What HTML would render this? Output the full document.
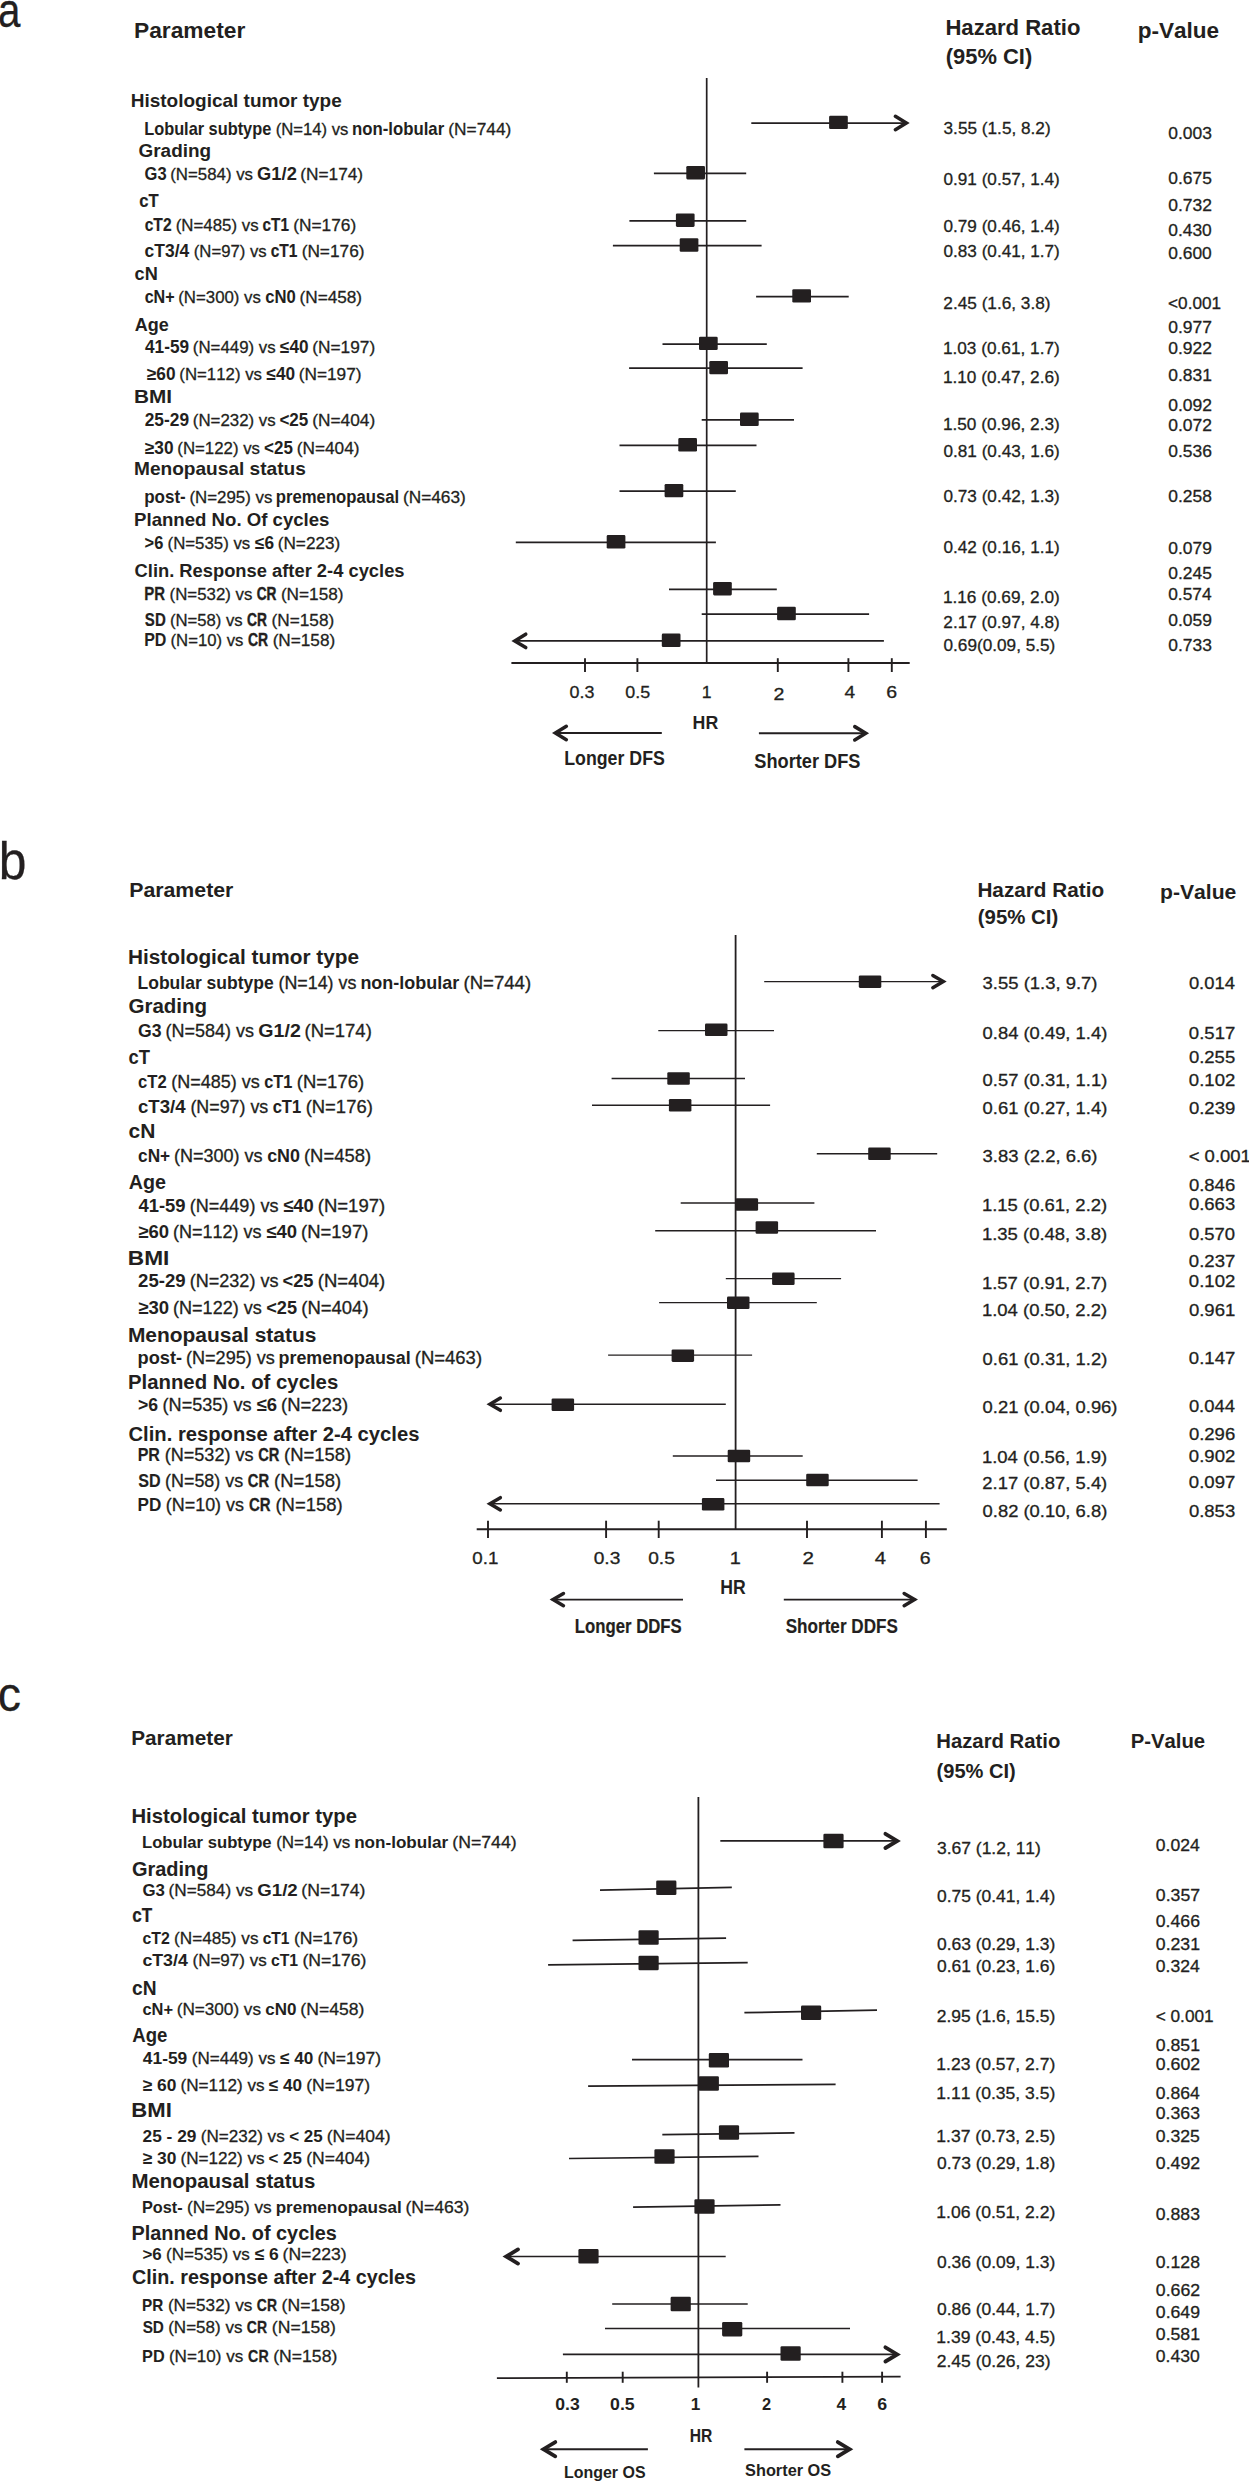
<!DOCTYPE html>
<html lang="en"><head><meta charset="utf-8"><title>Forest plots</title>
<style>
html,body{margin:0;padding:0;background:#fff}
svg{display:block}
text{font-family:"Liberation Sans",sans-serif;fill:#231f20;font-kerning:none;white-space:pre;stroke:#231f20;stroke-width:.3px}
.b{font-weight:bold;stroke:none}
path{stroke:#231f20;fill:none}
</style></head><body>
<svg width="1249" height="2482" viewBox="0 0 1249 2482">
<text transform="matrix(0.8238 0 0 1 -2.01 26.92)" font-size="48.92">a</text>
<text class="b" transform="matrix(1.0733 0 0 1 133.98 37.80)" font-size="21.21">Parameter</text>
<text class="b" transform="matrix(1.0416 0 0 1 945.42 35.00)" font-size="21.21">Hazard Ratio</text>
<text class="b" transform="matrix(1.0335 0 0 1 945.81 64.00)" font-size="21.21">(95% CI)</text>
<text class="b" transform="matrix(1.0633 0 0 1 1137.71 37.70)" font-size="21.21">p-Value</text>
<text class="b" transform="matrix(0.9887 0 0 1 130.73 107.30)" font-size="19.21">Histological tumor type</text>
<text class="b" transform="matrix(0.9862 0 0 1 138.52 156.60)" font-size="19.21">Grading</text>
<text class="b" style="stroke:#231f20;stroke-width:0.17px" transform="matrix(0.8665 0 0 1 139.35 207.20)" font-size="19.21">cT</text>
<text class="b" transform="matrix(0.9459 0 0 1 134.59 279.80)" font-size="19.21">cN</text>
<text class="b" transform="matrix(0.9384 0 0 1 134.85 330.50)" font-size="19.21">Age</text>
<text class="b" transform="matrix(1.0811 0 0 1 133.91 403.00)" font-size="19.21">BMI</text>
<text class="b" transform="matrix(0.9942 0 0 1 134.02 474.60)" font-size="19.21">Menopausal status</text>
<text class="b" transform="matrix(0.9687 0 0 1 134.05 525.90)" font-size="19.21">Planned No. Of cycles</text>
<text class="b" transform="matrix(0.9551 0 0 1 134.55 577.20)" font-size="19.21">Clin. Response after 2-4 cycles</text>
<g><text class="b" transform="matrix(0.9101 0 0 1 144.21 134.60)" font-size="17.96">Lobular subtype </text><text transform="matrix(0.9749 0 0 1 275.69 134.60)" font-size="17.10">(N=14) vs </text><text class="b" transform="matrix(0.9334 0 0 1 352.08 134.60)" font-size="17.96">non-lobular </text><text transform="matrix(1.0133 0 0 1 448.29 134.60)" font-size="17.10">(N=744)</text></g>
<g><text class="b" transform="matrix(0.9203 0 0 1 144.62 179.90)" font-size="17.96">G3 </text><text transform="matrix(0.9843 0 0 1 170.26 179.90)" font-size="17.10">(N=584) vs </text><text class="b" transform="matrix(1.0204 0 0 1 257.12 179.90)" font-size="17.96">G1/2 </text><text transform="matrix(1.0103 0 0 1 300.28 179.90)" font-size="17.10">(N=174)</text></g>
<g><text class="b" style="stroke:#231f20;stroke-width:0.16px" transform="matrix(0.8687 0 0 1 144.69 230.90)" font-size="17.96">cT2 </text><text transform="matrix(0.9851 0 0 1 175.73 230.90)" font-size="17.10">(N=485) vs </text><text class="b" style="stroke:#231f20;stroke-width:0.21px" transform="matrix(0.8492 0 0 1 262.62 230.90)" font-size="17.96">cT1 </text><text transform="matrix(1.0111 0 0 1 293.22 230.90)" font-size="17.10">(N=176)</text></g>
<g><text class="b" transform="matrix(0.9716 0 0 1 144.62 256.50)" font-size="17.96">cT3/4 </text><text transform="matrix(0.9779 0 0 1 193.75 256.50)" font-size="17.10">(N=97) vs </text><text class="b" style="stroke:#231f20;stroke-width:0.17px" transform="matrix(0.8648 0 0 1 270.74 256.50)" font-size="17.96">cT1 </text><text transform="matrix(1.0108 0 0 1 301.64 256.50)" font-size="17.10">(N=176)</text></g>
<g><text class="b" style="stroke:#231f20;stroke-width:0.09px" transform="matrix(0.8973 0 0 1 144.67 302.50)" font-size="17.96">cN+ </text><text transform="matrix(0.9841 0 0 1 178.22 302.50)" font-size="17.10">(N=300) vs </text><text class="b" transform="matrix(0.9303 0 0 1 265.16 302.50)" font-size="17.96">cN0 </text><text transform="matrix(1.0069 0 0 1 299.48 302.50)" font-size="17.10">(N=458)</text></g>
<g><text class="b" transform="matrix(0.9585 0 0 1 145.04 353.40)" font-size="17.96">41-59 </text><text transform="matrix(0.9850 0 0 1 192.81 353.40)" font-size="17.10">(N=449) vs </text><text class="b" transform="matrix(0.9556 0 0 1 280.07 353.40)" font-size="17.96">≤40 </text><text transform="matrix(1.0110 0 0 1 312.23 353.40)" font-size="17.10">(N=197)</text></g>
<g><text class="b" transform="matrix(0.9629 0 0 1 146.89 379.50)" font-size="17.96">≥60 </text><text transform="matrix(0.9832 0 0 1 179.30 379.50)" font-size="17.10">(N=112) vs </text><text class="b" transform="matrix(0.9629 0 0 1 266.41 379.50)" font-size="17.96">≤40 </text><text transform="matrix(1.0084 0 0 1 298.79 379.50)" font-size="17.10">(N=197)</text></g>
<g><text class="b" transform="matrix(0.9661 0 0 1 144.70 425.60)" font-size="17.96">25-29 </text><text transform="matrix(0.9850 0 0 1 192.81 425.60)" font-size="17.10">(N=232) vs </text><text class="b" transform="matrix(0.9511 0 0 1 279.38 425.60)" font-size="17.96">&lt;25 </text><text transform="matrix(1.0110 0 0 1 312.23 425.60)" font-size="17.10">(N=404)</text></g>
<g><text class="b" transform="matrix(0.9629 0 0 1 144.89 453.90)" font-size="17.96">≥30 </text><text transform="matrix(0.9832 0 0 1 177.30 453.90)" font-size="17.10">(N=122) vs </text><text class="b" transform="matrix(0.9450 0 0 1 264.11 453.90)" font-size="17.96">&lt;25 </text><text transform="matrix(1.0084 0 0 1 296.79 453.90)" font-size="17.10">(N=404)</text></g>
<g><text class="b" transform="matrix(0.9476 0 0 1 144.18 502.60)" font-size="17.96">post- </text><text transform="matrix(0.9869 0 0 1 189.41 502.60)" font-size="17.10">(N=295) vs </text><text class="b" transform="matrix(0.9299 0 0 1 275.79 502.60)" font-size="17.96">premenopausal </text><text transform="matrix(1.0096 0 0 1 402.92 502.60)" font-size="17.10">(N=463)</text></g>
<g><text class="b" transform="matrix(0.9161 0 0 1 144.61 548.50)" font-size="17.96">&gt;6 </text><text transform="matrix(0.9843 0 0 1 167.55 548.50)" font-size="17.10">(N=535) vs </text><text class="b" transform="matrix(0.9621 0 0 1 254.94 548.50)" font-size="17.96">≤6 </text><text transform="matrix(1.0038 0 0 1 277.77 548.50)" font-size="17.10">(N=223)</text></g>
<g><text class="b" style="stroke:#231f20;stroke-width:0.25px" transform="matrix(0.8329 0 0 1 144.30 599.80)" font-size="17.96">PR </text><text transform="matrix(0.9848 0 0 1 169.56 599.80)" font-size="17.10">(N=532) vs </text><text class="b" style="stroke:#231f20;stroke-width:0.44px" transform="matrix(0.7605 0 0 1 256.67 599.80)" font-size="17.96">CR </text><text transform="matrix(1.0068 0 0 1 280.89 599.80)" font-size="17.10">(N=158)</text></g>
<g><text class="b" style="stroke:#231f20;stroke-width:0.24px" transform="matrix(0.8364 0 0 1 144.87 625.80)" font-size="17.96">SD </text><text transform="matrix(0.9770 0 0 1 169.89 625.80)" font-size="17.10">(N=58) vs </text><text class="b" style="stroke:#231f20;stroke-width:0.43px" transform="matrix(0.7662 0 0 1 247.03 625.80)" font-size="17.96">CR </text><text transform="matrix(1.0071 0 0 1 271.57 625.80)" font-size="17.10">(N=158)</text></g>
<g><text class="b" style="stroke:#231f20;stroke-width:0.11px" transform="matrix(0.8886 0 0 1 144.23 646.40)" font-size="17.96">PD </text><text transform="matrix(0.9765 0 0 1 170.53 646.40)" font-size="17.10">(N=10) vs </text><text class="b" style="stroke:#231f20;stroke-width:0.40px" transform="matrix(0.7757 0 0 1 248.03 646.40)" font-size="17.96">CR </text><text transform="matrix(1.0061 0 0 1 272.63 646.40)" font-size="17.10">(N=158)</text></g>
<text transform="matrix(0.9945 0 0 1 943.54 133.80)" font-size="17.30">3.55 (1.5, 8.2)</text>
<text transform="matrix(0.9915 0 0 1 943.53 185.20)" font-size="17.30">0.91 (0.57, 1.4)</text>
<text transform="matrix(0.9915 0 0 1 943.53 231.50)" font-size="17.30">0.79 (0.46, 1.4)</text>
<text transform="matrix(0.9915 0 0 1 943.53 256.90)" font-size="17.30">0.83 (0.41, 1.7)</text>
<text transform="matrix(0.9965 0 0 1 943.33 308.50)" font-size="17.30">2.45 (1.6, 3.8)</text>
<text transform="matrix(0.9970 0 0 1 942.89 353.80)" font-size="17.30">1.03 (0.61, 1.7)</text>
<text transform="matrix(0.9970 0 0 1 942.89 382.80)" font-size="17.30">1.10 (0.47, 2.6)</text>
<text transform="matrix(0.9970 0 0 1 942.89 429.70)" font-size="17.30">1.50 (0.96, 2.3)</text>
<text transform="matrix(0.9915 0 0 1 943.53 456.50)" font-size="17.30">0.81 (0.43, 1.6)</text>
<text transform="matrix(0.9915 0 0 1 943.53 502.40)" font-size="17.30">0.73 (0.42, 1.3)</text>
<text transform="matrix(0.9915 0 0 1 943.53 553.00)" font-size="17.30">0.42 (0.16, 1.1)</text>
<text transform="matrix(0.9970 0 0 1 942.89 602.50)" font-size="17.30">1.16 (0.69, 2.0)</text>
<text transform="matrix(0.9932 0 0 1 943.34 628.10)" font-size="17.30">2.17 (0.97, 4.8)</text>
<text transform="matrix(0.9939 0 0 1 943.53 651.00)" font-size="17.30">0.69(0.09, 5.5)</text>
<text transform="matrix(1.0082 0 0 1 1168.22 138.80)" font-size="17.30">0.003</text>
<text transform="matrix(1.0074 0 0 1 1168.22 183.60)" font-size="17.30">0.675</text>
<text transform="matrix(1.0109 0 0 1 1168.22 210.70)" font-size="17.30">0.732</text>
<text transform="matrix(1.0062 0 0 1 1168.22 236.30)" font-size="17.30">0.430</text>
<text transform="matrix(1.0062 0 0 1 1168.22 259.00)" font-size="17.30">0.600</text>
<text transform="matrix(1.0109 0 0 1 1168.22 333.30)" font-size="17.30">0.977</text>
<text transform="matrix(1.0109 0 0 1 1168.22 353.80)" font-size="17.30">0.922</text>
<text transform="matrix(1.0103 0 0 1 1168.22 381.20)" font-size="17.30">0.831</text>
<text transform="matrix(1.0109 0 0 1 1168.22 410.70)" font-size="17.30">0.092</text>
<text transform="matrix(1.0109 0 0 1 1168.22 431.20)" font-size="17.30">0.072</text>
<text transform="matrix(1.0082 0 0 1 1168.22 456.50)" font-size="17.30">0.536</text>
<text transform="matrix(1.0080 0 0 1 1168.22 502.40)" font-size="17.30">0.258</text>
<text transform="matrix(1.0096 0 0 1 1168.22 554.00)" font-size="17.30">0.079</text>
<text transform="matrix(1.0074 0 0 1 1168.22 579.30)" font-size="17.30">0.245</text>
<text transform="matrix(1.0021 0 0 1 1168.22 599.90)" font-size="17.30">0.574</text>
<text transform="matrix(1.0096 0 0 1 1168.22 625.70)" font-size="17.30">0.059</text>
<text transform="matrix(1.0082 0 0 1 1168.22 651.00)" font-size="17.30">0.733</text>
<text transform="matrix(0.9942 0 0 1 1168.05 308.50)" font-size="17.30">&lt;0.001</text>
<text transform="matrix(1.0408 0 0 1 569.50 698.20)" font-size="17.20">0.3</text>
<text transform="matrix(1.0393 0 0 1 625.30 698.20)" font-size="17.20">0.5</text>
<text transform="matrix(1.0248 0 0 1 701.76 698.20)" font-size="17.20">1</text>
<text transform="matrix(1.1358 0 0 1 773.42 699.90)" font-size="17.20">2</text>
<text transform="matrix(1.1076 0 0 1 844.56 698.20)" font-size="17.20">4</text>
<text transform="matrix(1.1340 0 0 1 886.31 698.20)" font-size="17.20">6</text>
<text class="b" transform="matrix(0.9294 0 0 1 692.61 729.10)" font-size="19.11">HR</text>
<text class="b" transform="matrix(0.9197 0 0 1 564.21 765.00)" font-size="19.32">Longer DFS</text>
<text class="b" transform="matrix(0.9425 0 0 1 754.28 767.70)" font-size="19.32">Shorter DFS</text>
<path d="M706.7 77.9L706.7 663.0" stroke-width="1.70"/>
<path d="M511.4 663.0L909.7 663.0" stroke-width="1.90"/>
<path d="M585.0 658.2L585.0 672.0" stroke-width="1.90"/>
<path d="M637.4 658.2L637.4 672.0" stroke-width="1.90"/>
<path d="M777.8 658.2L777.8 672.0" stroke-width="1.90"/>
<path d="M848.4 658.2L848.4 672.0" stroke-width="1.90"/>
<path d="M891.8 658.2L891.8 672.0" stroke-width="1.90"/>
<path d="M751.3 123.0L905.7 123.0" stroke-width="1.75"/>
<rect x="829.1" y="115.7" width="18.7" height="13.4" rx="1.3" fill="#231f20" stroke="none"/>
<path d="M895.38 116.33L906.30 123.00L895.38 129.68" stroke-width="3.55" stroke-linecap="round" stroke-linejoin="miter" stroke-miterlimit="10"/>
<path d="M653.9 173.3L746.2 173.3" stroke-width="1.75"/>
<rect x="686.3" y="166.0" width="18.7" height="13.4" rx="1.3" fill="#231f20" stroke="none"/>
<path d="M629.4 220.8L746.2 220.8" stroke-width="1.75"/>
<rect x="675.9" y="213.5" width="18.7" height="13.4" rx="1.3" fill="#231f20" stroke="none"/>
<path d="M612.9 245.6L761.6 245.6" stroke-width="1.75"/>
<rect x="679.7" y="238.3" width="18.7" height="13.4" rx="1.3" fill="#231f20" stroke="none"/>
<path d="M756.1 296.5L848.7 296.5" stroke-width="1.75"/>
<rect x="792.3" y="289.2" width="18.7" height="13.4" rx="1.3" fill="#231f20" stroke="none"/>
<path d="M662.5 344.0L766.8 344.0" stroke-width="1.75"/>
<rect x="699.0" y="336.7" width="18.7" height="13.4" rx="1.3" fill="#231f20" stroke="none"/>
<path d="M629.1 368.2L802.6 368.2" stroke-width="1.75"/>
<rect x="709.3" y="360.9" width="18.7" height="13.4" rx="1.3" fill="#231f20" stroke="none"/>
<path d="M701.7 419.9L794.0 419.9" stroke-width="1.75"/>
<rect x="740.0" y="412.6" width="18.7" height="13.4" rx="1.3" fill="#231f20" stroke="none"/>
<path d="M619.5 445.4L756.5 445.4" stroke-width="1.75"/>
<rect x="678.3" y="438.1" width="18.7" height="13.4" rx="1.3" fill="#231f20" stroke="none"/>
<path d="M619.5 491.2L735.8 491.2" stroke-width="1.75"/>
<rect x="664.6" y="483.9" width="18.7" height="13.4" rx="1.3" fill="#231f20" stroke="none"/>
<path d="M515.8 542.4L715.9 542.4" stroke-width="1.75"/>
<rect x="606.7" y="535.1" width="18.7" height="13.4" rx="1.3" fill="#231f20" stroke="none"/>
<path d="M669.0 589.3L776.8 589.3" stroke-width="1.75"/>
<rect x="713.1" y="582.0" width="18.7" height="13.4" rx="1.3" fill="#231f20" stroke="none"/>
<path d="M701.7 614.1L869.1 614.1" stroke-width="1.75"/>
<rect x="777.1" y="606.8" width="18.7" height="13.4" rx="1.3" fill="#231f20" stroke="none"/>
<path d="M515.4 640.9L883.9 640.9" stroke-width="1.75"/>
<rect x="661.8" y="633.6" width="18.7" height="13.4" rx="1.3" fill="#231f20" stroke="none"/>
<path d="M525.73 634.23L514.80 640.90L525.73 647.57" stroke-width="3.55" stroke-linecap="round" stroke-linejoin="miter" stroke-miterlimit="10"/>
<path d="M556.0 733.0L661.8 733.0" stroke-width="2.00"/>
<path d="M566.33 726.33L555.40 733.00L566.33 739.67" stroke-width="3.55" stroke-linecap="round" stroke-linejoin="miter" stroke-miterlimit="10"/>
<path d="M758.9 733.3L865.0 733.3" stroke-width="2.00"/>
<path d="M854.77 726.62L865.70 733.30L854.77 739.97" stroke-width="3.55" stroke-linecap="round" stroke-linejoin="miter" stroke-miterlimit="10"/>
<text transform="matrix(0.9626 0 0 1 -1.31 879.19)" font-size="51.74">b</text>
<text class="b" transform="matrix(1.0570 0 0 1 129.17 897.30)" font-size="20.16">Parameter</text>
<text class="b" transform="matrix(1.0282 0 0 1 977.41 897.10)" font-size="20.16">Hazard Ratio</text>
<text class="b" transform="matrix(1.0125 0 0 1 977.78 923.60)" font-size="20.16">(95% CI)</text>
<text class="b" transform="matrix(1.0481 0 0 1 1160.01 898.60)" font-size="20.16">p-Value</text>
<text class="b" transform="matrix(1.0429 0 0 1 127.91 964.20)" font-size="19.95">Histological tumor type</text>
<text class="b" transform="matrix(1.0293 0 0 1 128.46 1013.20)" font-size="19.95">Grading</text>
<text class="b" transform="matrix(0.9243 0 0 1 128.58 1063.80)" font-size="19.95">cT</text>
<text class="b" transform="matrix(1.0522 0 0 1 128.48 1138.10)" font-size="19.95">cN</text>
<text class="b" transform="matrix(0.9888 0 0 1 128.81 1188.60)" font-size="19.95">Age</text>
<text class="b" transform="matrix(1.1387 0 0 1 127.78 1264.90)" font-size="19.95">BMI</text>
<text class="b" transform="matrix(1.0500 0 0 1 127.90 1341.70)" font-size="19.95">Menopausal status</text>
<text class="b" transform="matrix(1.0208 0 0 1 127.94 1389.20)" font-size="19.95">Planned No. of cycles</text>
<text class="b" transform="matrix(1.0135 0 0 1 128.47 1440.80)" font-size="19.95">Clin. response after 2-4 cycles</text>
<g><text class="b" transform="matrix(0.9479 0 0 1 137.53 988.60)" font-size="18.48">Lobular subtype </text><text transform="matrix(1.0155 0 0 1 278.49 988.60)" font-size="17.60">(N=14) vs </text><text class="b" transform="matrix(0.9722 0 0 1 360.38 988.60)" font-size="18.48">non-lobular </text><text transform="matrix(1.0554 0 0 1 463.52 988.60)" font-size="17.60">(N=744)</text></g>
<g><text class="b" transform="matrix(0.9568 0 0 1 137.97 1036.50)" font-size="18.48">G3 </text><text transform="matrix(1.0233 0 0 1 165.41 1036.50)" font-size="17.60">(N=584) vs </text><text class="b" transform="matrix(1.0609 0 0 1 258.36 1036.50)" font-size="18.48">G1/2 </text><text transform="matrix(1.0504 0 0 1 304.54 1036.50)" font-size="17.60">(N=174)</text></g>
<g><text class="b" transform="matrix(0.9023 0 0 1 138.05 1087.50)" font-size="18.48">cT2 </text><text transform="matrix(1.0233 0 0 1 171.23 1087.50)" font-size="17.60">(N=485) vs </text><text class="b" style="stroke:#231f20;stroke-width:0.12px" transform="matrix(0.8821 0 0 1 264.13 1087.50)" font-size="18.48">cT1 </text><text transform="matrix(1.0503 0 0 1 296.85 1087.50)" font-size="17.60">(N=176)</text></g>
<g><text class="b" transform="matrix(1.0080 0 0 1 137.97 1113.10)" font-size="18.48">cT3/4 </text><text transform="matrix(1.0145 0 0 1 190.43 1113.10)" font-size="17.60">(N=97) vs </text><text class="b" style="stroke:#231f20;stroke-width:0.09px" transform="matrix(0.8972 0 0 1 272.65 1113.10)" font-size="18.48">cT1 </text><text transform="matrix(1.0487 0 0 1 305.65 1113.10)" font-size="17.60">(N=176)</text></g>
<g><text class="b" transform="matrix(0.9344 0 0 1 138.03 1162.30)" font-size="18.48">cN+ </text><text transform="matrix(1.0248 0 0 1 173.98 1162.30)" font-size="17.60">(N=300) vs </text><text class="b" transform="matrix(0.9688 0 0 1 267.17 1162.30)" font-size="18.48">cN0 </text><text transform="matrix(1.0486 0 0 1 303.96 1162.30)" font-size="17.60">(N=458)</text></g>
<g><text class="b" transform="matrix(0.9989 0 0 1 138.42 1212.00)" font-size="18.48">41-59 </text><text transform="matrix(1.0264 0 0 1 189.66 1212.00)" font-size="17.60">(N=449) vs </text><text class="b" transform="matrix(0.9958 0 0 1 283.25 1212.00)" font-size="18.48">≤40 </text><text transform="matrix(1.0535 0 0 1 317.75 1212.00)" font-size="17.60">(N=197)</text></g>
<g><text class="b" transform="matrix(1.0027 0 0 1 138.26 1237.80)" font-size="18.48">≥60 </text><text transform="matrix(1.0238 0 0 1 172.99 1237.80)" font-size="17.60">(N=112) vs </text><text class="b" transform="matrix(1.0027 0 0 1 266.36 1237.80)" font-size="18.48">≤40 </text><text transform="matrix(1.0500 0 0 1 301.07 1237.80)" font-size="17.60">(N=197)</text></g>
<g><text class="b" transform="matrix(1.0067 0 0 1 138.06 1286.90)" font-size="18.48">25-29 </text><text transform="matrix(1.0264 0 0 1 189.66 1286.90)" font-size="17.60">(N=232) vs </text><text class="b" transform="matrix(0.9911 0 0 1 282.50 1286.90)" font-size="18.48">&lt;25 </text><text transform="matrix(1.0535 0 0 1 317.75 1286.90)" font-size="17.60">(N=404)</text></g>
<g><text class="b" transform="matrix(1.0040 0 0 1 138.26 1314.30)" font-size="18.48">≥30 </text><text transform="matrix(1.0252 0 0 1 173.04 1314.30)" font-size="17.60">(N=122) vs </text><text class="b" transform="matrix(0.9854 0 0 1 266.21 1314.30)" font-size="18.48">&lt;25 </text><text transform="matrix(1.0514 0 0 1 301.28 1314.30)" font-size="17.60">(N=404)</text></g>
<g><text class="b" transform="matrix(0.9866 0 0 1 137.50 1364.00)" font-size="18.48">post- </text><text transform="matrix(1.0276 0 0 1 185.97 1364.00)" font-size="17.60">(N=295) vs </text><text class="b" transform="matrix(0.9683 0 0 1 278.54 1364.00)" font-size="18.48">premenopausal </text><text transform="matrix(1.0512 0 0 1 414.79 1364.00)" font-size="17.60">(N=463)</text></g>
<g><text class="b" transform="matrix(0.9562 0 0 1 137.96 1411.20)" font-size="18.48">&gt;6 </text><text transform="matrix(1.0273 0 0 1 162.60 1411.20)" font-size="17.60">(N=535) vs </text><text class="b" transform="matrix(1.0042 0 0 1 256.48 1411.20)" font-size="18.48">≤6 </text><text transform="matrix(1.0477 0 0 1 281.01 1411.20)" font-size="17.60">(N=223)</text></g>
<g><text class="b" style="stroke:#231f20;stroke-width:0.16px" transform="matrix(0.8679 0 0 1 137.63 1460.60)" font-size="18.48">PR </text><text transform="matrix(1.0262 0 0 1 164.72 1460.60)" font-size="17.60">(N=532) vs </text><text class="b" style="stroke:#231f20;stroke-width:0.36px" transform="matrix(0.7925 0 0 1 258.15 1460.60)" font-size="18.48">CR </text><text transform="matrix(1.0491 0 0 1 284.12 1460.60)" font-size="17.60">(N=158)</text></g>
<g><text class="b" style="stroke:#231f20;stroke-width:0.15px" transform="matrix(0.8711 0 0 1 138.24 1487.20)" font-size="18.48">SD </text><text transform="matrix(1.0174 0 0 1 165.05 1487.20)" font-size="17.60">(N=58) vs </text><text class="b" style="stroke:#231f20;stroke-width:0.34px" transform="matrix(0.7979 0 0 1 247.74 1487.20)" font-size="18.48">CR </text><text transform="matrix(1.0488 0 0 1 274.04 1487.20)" font-size="17.60">(N=158)</text></g>
<g><text class="b" transform="matrix(0.9274 0 0 1 137.55 1511.00)" font-size="18.48">PD </text><text transform="matrix(1.0191 0 0 1 165.80 1511.00)" font-size="17.60">(N=10) vs </text><text class="b" style="stroke:#231f20;stroke-width:0.31px" transform="matrix(0.8095 0 0 1 249.04 1511.00)" font-size="18.48">CR </text><text transform="matrix(1.0500 0 0 1 275.47 1511.00)" font-size="17.60">(N=158)</text></g>
<text transform="matrix(1.0672 0 0 1 982.60 988.60)" font-size="17.30">3.55 (1.3, 9.7)</text>
<text transform="matrix(1.0633 0 0 1 982.58 1038.90)" font-size="17.30">0.84 (0.49, 1.4)</text>
<text transform="matrix(1.0633 0 0 1 982.58 1085.60)" font-size="17.30">0.57 (0.31, 1.1)</text>
<text transform="matrix(1.0633 0 0 1 982.58 1114.20)" font-size="17.30">0.61 (0.27, 1.4)</text>
<text transform="matrix(1.0672 0 0 1 982.60 1162.20)" font-size="17.30">3.83 (2.2, 6.6)</text>
<text transform="matrix(1.0692 0 0 1 981.89 1210.70)" font-size="17.30">1.15 (0.61, 2.2)</text>
<text transform="matrix(1.0692 0 0 1 981.89 1240.20)" font-size="17.30">1.35 (0.48, 3.8)</text>
<text transform="matrix(1.0692 0 0 1 981.89 1288.70)" font-size="17.30">1.57 (0.91, 2.7)</text>
<text transform="matrix(1.0692 0 0 1 981.89 1315.60)" font-size="17.30">1.04 (0.50, 2.2)</text>
<text transform="matrix(1.0633 0 0 1 982.58 1365.00)" font-size="17.30">0.61 (0.31, 1.2)</text>
<text transform="matrix(1.0631 0 0 1 982.58 1413.30)" font-size="17.30">0.21 (0.04, 0.96)</text>
<text transform="matrix(1.0692 0 0 1 981.89 1462.70)" font-size="17.30">1.04 (0.56, 1.9)</text>
<text transform="matrix(1.0651 0 0 1 982.37 1489.20)" font-size="17.30">2.17 (0.87, 5.4)</text>
<text transform="matrix(1.0633 0 0 1 982.58 1516.70)" font-size="17.30">0.82 (0.10, 6.8)</text>
<text transform="matrix(1.0639 0 0 1 1188.88 988.60)" font-size="17.30">0.014</text>
<text transform="matrix(1.0731 0 0 1 1188.87 1038.90)" font-size="17.30">0.517</text>
<text transform="matrix(1.0695 0 0 1 1188.88 1062.90)" font-size="17.30">0.255</text>
<text transform="matrix(1.0731 0 0 1 1188.87 1085.60)" font-size="17.30">0.102</text>
<text transform="matrix(1.0718 0 0 1 1188.88 1114.20)" font-size="17.30">0.239</text>
<text transform="matrix(1.0703 0 0 1 1188.88 1190.70)" font-size="17.30">0.846</text>
<text transform="matrix(1.0703 0 0 1 1188.88 1209.70)" font-size="17.30">0.663</text>
<text transform="matrix(1.0682 0 0 1 1188.88 1240.20)" font-size="17.30">0.570</text>
<text transform="matrix(1.0731 0 0 1 1188.87 1267.40)" font-size="17.30">0.237</text>
<text transform="matrix(1.0731 0 0 1 1188.87 1286.70)" font-size="17.30">0.102</text>
<text transform="matrix(1.0725 0 0 1 1188.88 1315.60)" font-size="17.30">0.961</text>
<text transform="matrix(1.0731 0 0 1 1188.87 1363.50)" font-size="17.30">0.147</text>
<text transform="matrix(1.0639 0 0 1 1188.88 1411.80)" font-size="17.30">0.044</text>
<text transform="matrix(1.0703 0 0 1 1188.88 1440.00)" font-size="17.30">0.296</text>
<text transform="matrix(1.0731 0 0 1 1188.87 1462.30)" font-size="17.30">0.902</text>
<text transform="matrix(1.0731 0 0 1 1188.87 1488.20)" font-size="17.30">0.097</text>
<text transform="matrix(1.0703 0 0 1 1188.88 1516.70)" font-size="17.30">0.853</text>
<text transform="matrix(1.0690 0 0 1 1188.69 1162.20)" font-size="17.30">&lt; 0.001</text>
<text transform="matrix(1.1087 0 0 1 472.37 1564.00)" font-size="16.90">0.1</text>
<text transform="matrix(1.1362 0 0 1 593.65 1564.00)" font-size="16.90">0.3</text>
<text transform="matrix(1.1345 0 0 1 648.15 1564.00)" font-size="16.90">0.5</text>
<text transform="matrix(1.1803 0 0 1 729.78 1564.00)" font-size="16.90">1</text>
<text transform="matrix(1.2209 0 0 1 802.46 1564.00)" font-size="16.90">2</text>
<text transform="matrix(1.1977 0 0 1 874.84 1564.00)" font-size="16.90">4</text>
<text transform="matrix(1.1541 0 0 1 919.81 1564.00)" font-size="16.90">6</text>
<text class="b" transform="matrix(0.9067 0 0 1 720.32 1594.20)" font-size="19.43">HR</text>
<text class="b" style="stroke:#231f20;stroke-width:0.21px" transform="matrix(0.8482 0 0 1 574.78 1633.00)" font-size="19.74">Longer DDFS</text>
<text class="b" style="stroke:#231f20;stroke-width:0.16px" transform="matrix(0.8667 0 0 1 785.71 1633.00)" font-size="19.74">Shorter DDFS</text>
<path d="M735.6 934.9L735.6 1529.3" stroke-width="1.80"/>
<path d="M476.7 1529.2L946.8 1529.2" stroke-width="1.90"/>
<path d="M488.0 1520.7L488.0 1538.0" stroke-width="1.90"/>
<path d="M606.1 1520.7L606.1 1538.0" stroke-width="1.90"/>
<path d="M658.7 1520.7L658.7 1538.0" stroke-width="1.90"/>
<path d="M807.0 1520.7L807.0 1538.0" stroke-width="1.90"/>
<path d="M881.9 1520.7L881.9 1538.0" stroke-width="1.90"/>
<path d="M925.9 1520.7L925.9 1538.0" stroke-width="1.90"/>
<path d="M764.2 981.6L942.7 981.6" stroke-width="1.45"/>
<rect x="858.8" y="975.4" width="22.5" height="12.5" rx="1.3" fill="#231f20" stroke="none"/>
<path d="M932.85 975.50L943.24 981.60L932.85 987.70" stroke-width="3.50" stroke-linecap="round" stroke-linejoin="miter" stroke-miterlimit="10"/>
<path d="M658.3 1030.6L774.0 1030.6" stroke-width="1.45"/>
<rect x="705.0" y="1023.6" width="22.5" height="12.5" rx="1.3" fill="#231f20" stroke="none"/>
<path d="M611.6 1078.5L745.0 1078.5" stroke-width="1.45"/>
<rect x="667.3" y="1072.2" width="22.5" height="12.5" rx="1.3" fill="#231f20" stroke="none"/>
<path d="M592.0 1105.2L770.1 1105.2" stroke-width="1.45"/>
<rect x="668.9" y="1099.0" width="22.5" height="12.5" rx="1.3" fill="#231f20" stroke="none"/>
<path d="M816.8 1153.8L937.2 1153.8" stroke-width="1.45"/>
<rect x="868.2" y="1147.5" width="22.5" height="12.5" rx="1.3" fill="#231f20" stroke="none"/>
<path d="M680.7 1202.9L814.4 1202.9" stroke-width="1.45"/>
<rect x="735.6" y="1198.2" width="22.5" height="12.5" rx="1.3" fill="#231f20" stroke="none"/>
<path d="M655.2 1230.7L876.0 1230.7" stroke-width="1.45"/>
<rect x="755.6" y="1221.2" width="22.5" height="12.5" rx="1.3" fill="#231f20" stroke="none"/>
<path d="M725.8 1278.6L841.1 1278.6" stroke-width="1.45"/>
<rect x="772.1" y="1272.6" width="22.5" height="12.5" rx="1.3" fill="#231f20" stroke="none"/>
<path d="M659.1 1302.6L816.8 1302.6" stroke-width="1.45"/>
<rect x="727.0" y="1296.5" width="22.5" height="12.5" rx="1.3" fill="#231f20" stroke="none"/>
<path d="M608.1 1355.1L752.1 1355.1" stroke-width="1.45"/>
<rect x="671.6" y="1349.4" width="22.5" height="12.5" rx="1.3" fill="#231f20" stroke="none"/>
<path d="M490.5 1404.2L725.8 1404.2" stroke-width="1.45"/>
<rect x="551.6" y="1398.5" width="22.5" height="12.5" rx="1.3" fill="#231f20" stroke="none"/>
<path d="M500.35 1398.10L489.96 1404.20L500.35 1410.30" stroke-width="3.50" stroke-linecap="round" stroke-linejoin="miter" stroke-miterlimit="10"/>
<path d="M672.8 1456.0L802.7 1456.0" stroke-width="1.45"/>
<rect x="727.7" y="1449.8" width="22.5" height="12.5" rx="1.3" fill="#231f20" stroke="none"/>
<path d="M716.0 1480.3L917.6 1480.3" stroke-width="1.45"/>
<rect x="806.2" y="1473.8" width="22.5" height="12.5" rx="1.3" fill="#231f20" stroke="none"/>
<path d="M490.5 1503.8L939.6 1503.8" stroke-width="1.45"/>
<rect x="701.9" y="1498.1" width="22.5" height="12.5" rx="1.3" fill="#231f20" stroke="none"/>
<path d="M500.35 1497.70L489.96 1503.80L500.35 1509.90" stroke-width="3.50" stroke-linecap="round" stroke-linejoin="miter" stroke-miterlimit="10"/>
<path d="M551.6 1599.6L683.0 1599.6" stroke-width="1.90"/>
<path d="M563.45 1593.50L553.06 1599.60L563.45 1605.70" stroke-width="3.50" stroke-linecap="round" stroke-linejoin="miter" stroke-miterlimit="10"/>
<path d="M783.8 1599.6L916.0 1599.6" stroke-width="1.90"/>
<path d="M904.15 1593.50L914.54 1599.60L904.15 1605.70" stroke-width="3.50" stroke-linecap="round" stroke-linejoin="miter" stroke-miterlimit="10"/>
<text transform="matrix(0.9554 0 0 1 -2.27 1710.53)" font-size="48.55">c</text>
<text class="b" transform="matrix(0.9990 0 0 1 131.21 1744.60)" font-size="20.79">Parameter</text>
<text class="b" transform="matrix(0.9770 0 0 1 936.24 1748.20)" font-size="20.79">Hazard Ratio</text>
<text class="b" transform="matrix(0.9656 0 0 1 936.60 1777.70)" font-size="20.79">(95% CI)</text>
<text class="b" transform="matrix(0.9777 0 0 1 1130.64 1748.20)" font-size="20.79">P-Value</text>
<text class="b" transform="matrix(0.9969 0 0 1 131.44 1823.20)" font-size="20.37">Histological tumor type</text>
<text class="b" transform="matrix(0.9804 0 0 1 131.98 1875.80)" font-size="20.37">Grading</text>
<text class="b" style="stroke:#231f20;stroke-width:0.24px" transform="matrix(0.8393 0 0 1 132.13 1922.10)" font-size="20.37">cT</text>
<text class="b" transform="matrix(0.9426 0 0 1 132.05 1994.60)" font-size="20.37">cN</text>
<text class="b" transform="matrix(0.9120 0 0 1 132.34 2042.10)" font-size="20.37">Age</text>
<text class="b" transform="matrix(1.0863 0 0 1 131.32 2117.40)" font-size="20.37">BMI</text>
<text class="b" transform="matrix(1.0035 0 0 1 131.43 2188.00)" font-size="20.37">Menopausal status</text>
<text class="b" transform="matrix(0.9762 0 0 1 131.47 2239.50)" font-size="20.37">Planned No. of cycles</text>
<text class="b" transform="matrix(0.9693 0 0 1 131.99 2283.50)" font-size="20.37">Clin. response after 2-4 cycles</text>
<g><text class="b" transform="matrix(0.9639 0 0 1 141.98 1847.90)" font-size="17.30">Lobular subtype </text><text transform="matrix(0.9835 0 0 1 276.17 1847.90)" font-size="17.30">(N=14) vs </text><text class="b" transform="matrix(0.9887 0 0 1 354.13 1847.90)" font-size="17.30">non-lobular </text><text transform="matrix(1.0222 0 0 1 452.32 1847.90)" font-size="17.30">(N=744)</text></g>
<g><text class="b" transform="matrix(0.9750 0 0 1 142.41 1895.80)" font-size="17.30">G3 </text><text transform="matrix(0.9931 0 0 1 168.58 1895.80)" font-size="17.30">(N=584) vs </text><text class="b" transform="matrix(1.0810 0 0 1 257.24 1895.80)" font-size="17.30">G1/2 </text><text transform="matrix(1.0193 0 0 1 301.29 1895.80)" font-size="17.30">(N=174)</text></g>
<g><text class="b" transform="matrix(0.9192 0 0 1 142.48 1944.10)" font-size="17.30">cT2 </text><text transform="matrix(0.9928 0 0 1 174.12 1944.10)" font-size="17.30">(N=485) vs </text><text class="b" style="stroke:#231f20;stroke-width:0.08px" transform="matrix(0.8986 0 0 1 262.71 1944.10)" font-size="17.30">cT1 </text><text transform="matrix(1.0190 0 0 1 293.92 1944.10)" font-size="17.30">(N=176)</text></g>
<g><text class="b" transform="matrix(1.0273 0 0 1 142.41 1966.40)" font-size="17.30">cT3/4 </text><text transform="matrix(0.9847 0 0 1 192.46 1966.40)" font-size="17.30">(N=97) vs </text><text class="b" transform="matrix(0.9144 0 0 1 270.90 1966.40)" font-size="17.30">cT1 </text><text transform="matrix(1.0179 0 0 1 302.38 1966.40)" font-size="17.30">(N=176)</text></g>
<g><text class="b" transform="matrix(0.9498 0 0 1 142.46 2014.70)" font-size="17.30">cN+ </text><text transform="matrix(0.9921 0 0 1 176.67 2014.70)" font-size="17.30">(N=300) vs </text><text class="b" transform="matrix(0.9847 0 0 1 265.35 2014.70)" font-size="17.30">cN0 </text><text transform="matrix(1.0151 0 0 1 300.36 2014.70)" font-size="17.30">(N=458)</text></g>
<g><text class="b" transform="matrix(1.0055 0 0 1 142.84 2064.10)" font-size="17.30">41-59 </text><text transform="matrix(0.9830 0 0 1 191.85 2064.10)" font-size="17.30">(N=449) vs </text><text class="b" transform="matrix(0.9922 0 0 1 280.07 2064.10)" font-size="17.30">≤ 40 </text><text transform="matrix(1.0131 0 0 1 317.38 2064.10)" font-size="17.30">(N=197)</text></g>
<g><text class="b" transform="matrix(1.0064 0 0 1 142.68 2091.10)" font-size="17.30">≥ 60 </text><text transform="matrix(0.9894 0 0 1 180.49 2091.10)" font-size="17.30">(N=112) vs </text><text class="b" transform="matrix(0.9936 0 0 1 268.84 2091.10)" font-size="17.30">≤ 40 </text><text transform="matrix(1.0146 0 0 1 306.19 2091.10)" font-size="17.30">(N=197)</text></g>
<g><text class="b" transform="matrix(1.0015 0 0 1 142.50 2142.20)" font-size="17.30">25 - 29 </text><text transform="matrix(0.9866 0 0 1 200.78 2142.20)" font-size="17.30">(N=232) vs </text><text class="b" transform="matrix(0.9800 0 0 1 289.23 2142.20)" font-size="17.30">&lt; 25 </text><text transform="matrix(1.0134 0 0 1 326.76 2142.20)" font-size="17.30">(N=404)</text></g>
<g><text class="b" transform="matrix(1.0064 0 0 1 142.68 2164.20)" font-size="17.30">≥ 30 </text><text transform="matrix(0.9894 0 0 1 180.49 2164.20)" font-size="17.30">(N=122) vs </text><text class="b" transform="matrix(0.9778 0 0 1 268.54 2164.20)" font-size="17.30">&lt; 25 </text><text transform="matrix(1.0146 0 0 1 306.19 2164.20)" font-size="17.30">(N=404)</text></g>
<g><text class="b" transform="matrix(0.9403 0 0 1 142.01 2212.90)" font-size="17.30">Post- </text><text transform="matrix(0.9956 0 0 1 186.95 2212.90)" font-size="17.30">(N=295) vs </text><text class="b" transform="matrix(0.9869 0 0 1 275.63 2212.90)" font-size="17.30">premenopausal </text><text transform="matrix(1.0157 0 0 1 405.52 2212.90)" font-size="17.30">(N=463)</text></g>
<g><text class="b" transform="matrix(0.9786 0 0 1 142.39 2259.70)" font-size="17.30">&gt;6 </text><text transform="matrix(0.9865 0 0 1 166.01 2259.70)" font-size="17.30">(N=535) vs </text><text class="b" transform="matrix(1.0118 0 0 1 254.64 2259.70)" font-size="17.30">≤ 6 </text><text transform="matrix(1.0164 0 0 1 282.57 2259.70)" font-size="17.30">(N=223)</text></g>
<g><text class="b" style="stroke:#231f20;stroke-width:0.12px" transform="matrix(0.8828 0 0 1 142.08 2311.20)" font-size="17.30">PR </text><text transform="matrix(0.9942 0 0 1 167.88 2311.20)" font-size="17.30">(N=532) vs </text><text class="b" style="stroke:#231f20;stroke-width:0.32px" transform="matrix(0.8061 0 0 1 256.85 2311.20)" font-size="17.30">CR </text><text transform="matrix(1.0163 0 0 1 281.58 2311.20)" font-size="17.30">(N=158)</text></g>
<g><text class="b" style="stroke:#231f20;stroke-width:0.12px" transform="matrix(0.8852 0 0 1 142.66 2333.20)" font-size="17.30">SD </text><text transform="matrix(0.9847 0 0 1 168.17 2333.20)" font-size="17.30">(N=58) vs </text><text class="b" style="stroke:#231f20;stroke-width:0.31px" transform="matrix(0.8108 0 0 1 246.84 2333.20)" font-size="17.30">CR </text><text transform="matrix(1.0151 0 0 1 271.86 2333.20)" font-size="17.30">(N=158)</text></g>
<g><text class="b" transform="matrix(0.9428 0 0 1 142.01 2361.70)" font-size="17.30">PD </text><text transform="matrix(0.9867 0 0 1 168.89 2361.70)" font-size="17.30">(N=10) vs </text><text class="b" style="stroke:#231f20;stroke-width:0.28px" transform="matrix(0.8230 0 0 1 248.11 2361.70)" font-size="17.30">CR </text><text transform="matrix(1.0166 0 0 1 273.26 2361.70)" font-size="17.30">(N=158)</text></g>
<text transform="matrix(1.0290 0 0 1 936.93 1853.60)" font-size="17.00">3.67 (1.2, 11)</text>
<text transform="matrix(1.0275 0 0 1 936.92 1901.50)" font-size="17.00">0.75 (0.41, 1.4)</text>
<text transform="matrix(1.0275 0 0 1 936.92 1949.50)" font-size="17.00">0.63 (0.29, 1.3)</text>
<text transform="matrix(1.0275 0 0 1 936.92 1971.60)" font-size="17.00">0.61 (0.23, 1.6)</text>
<text transform="matrix(1.0292 0 0 1 936.72 2021.90)" font-size="17.00">2.95 (1.6, 15.5)</text>
<text transform="matrix(1.0332 0 0 1 936.26 2070.10)" font-size="17.00">1.23 (0.57, 2.7)</text>
<text transform="matrix(1.0332 0 0 1 936.26 2098.60)" font-size="17.00">1.11 (0.35, 3.5)</text>
<text transform="matrix(1.0332 0 0 1 936.26 2142.30)" font-size="17.00">1.37 (0.73, 2.5)</text>
<text transform="matrix(1.0275 0 0 1 936.92 2169.30)" font-size="17.00">0.73 (0.29, 1.8)</text>
<text transform="matrix(1.0332 0 0 1 936.26 2217.70)" font-size="17.00">1.06 (0.51, 2.2)</text>
<text transform="matrix(1.0275 0 0 1 936.92 2268.00)" font-size="17.00">0.36 (0.09, 1.3)</text>
<text transform="matrix(1.0275 0 0 1 936.92 2315.40)" font-size="17.00">0.86 (0.44, 1.7)</text>
<text transform="matrix(1.0332 0 0 1 936.26 2343.30)" font-size="17.00">1.39 (0.43, 4.5)</text>
<text transform="matrix(1.0307 0 0 1 936.72 2366.80)" font-size="17.00">2.45 (0.26, 23)</text>
<text transform="matrix(1.0319 0 0 1 1155.81 1850.70)" font-size="17.00">0.024</text>
<text transform="matrix(1.0409 0 0 1 1155.81 1900.70)" font-size="17.00">0.357</text>
<text transform="matrix(1.0382 0 0 1 1155.81 1927.10)" font-size="17.00">0.466</text>
<text transform="matrix(1.0403 0 0 1 1155.81 1949.50)" font-size="17.00">0.231</text>
<text transform="matrix(1.0319 0 0 1 1155.81 1971.60)" font-size="17.00">0.324</text>
<text transform="matrix(1.0403 0 0 1 1155.81 2050.60)" font-size="17.00">0.851</text>
<text transform="matrix(1.0409 0 0 1 1155.81 2070.10)" font-size="17.00">0.602</text>
<text transform="matrix(1.0319 0 0 1 1155.81 2098.60)" font-size="17.00">0.864</text>
<text transform="matrix(1.0382 0 0 1 1155.81 2118.60)" font-size="17.00">0.363</text>
<text transform="matrix(1.0373 0 0 1 1155.81 2142.30)" font-size="17.00">0.325</text>
<text transform="matrix(1.0409 0 0 1 1155.81 2169.30)" font-size="17.00">0.492</text>
<text transform="matrix(1.0382 0 0 1 1155.81 2220.30)" font-size="17.00">0.883</text>
<text transform="matrix(1.0380 0 0 1 1155.81 2268.00)" font-size="17.00">0.128</text>
<text transform="matrix(1.0409 0 0 1 1155.81 2296.40)" font-size="17.00">0.662</text>
<text transform="matrix(1.0396 0 0 1 1155.81 2318.00)" font-size="17.00">0.649</text>
<text transform="matrix(1.0403 0 0 1 1155.81 2339.90)" font-size="17.00">0.581</text>
<text transform="matrix(1.0361 0 0 1 1155.81 2361.80)" font-size="17.00">0.430</text>
<text transform="matrix(1.0158 0 0 1 1155.65 2021.90)" font-size="17.00">&lt; 0.001</text>
<text class="b" transform="matrix(1.0798 0 0 1 555.30 2410.30)" font-size="16.28">0.3</text>
<text class="b" transform="matrix(1.0870 0 0 1 610.10 2410.30)" font-size="16.28">0.5</text>
<text class="b" transform="matrix(1.0563 0 0 1 690.72 2410.30)" font-size="16.28">1</text>
<text class="b" transform="matrix(1.0082 0 0 1 761.93 2410.30)" font-size="16.28">2</text>
<text class="b" transform="matrix(1.0668 0 0 1 836.44 2410.30)" font-size="16.28">4</text>
<text class="b" transform="matrix(1.0931 0 0 1 877.15 2410.30)" font-size="16.28">6</text>
<text class="b" style="stroke:#231f20;stroke-width:0.09px" transform="matrix(0.8964 0 0 1 689.75 2441.60)" font-size="17.43">HR</text>
<text class="b" transform="matrix(0.9225 0 0 1 563.93 2477.60)" font-size="17.32">Longer OS</text>
<text class="b" transform="matrix(0.9426 0 0 1 745.03 2475.50)" font-size="17.32">Shorter OS</text>
<path d="M698.4 1796.9L698.4 2387.4" stroke-width="1.80"/>
<path d="M496.9 2378.2L900.6 2376.6" stroke-width="1.70"/>
<path d="M566.8 2371.7L566.8 2382.8" stroke-width="1.90"/>
<path d="M622.7 2371.7L622.7 2382.8" stroke-width="1.90"/>
<path d="M767.1 2371.7L767.1 2382.8" stroke-width="1.90"/>
<path d="M842.4 2371.7L842.4 2382.8" stroke-width="1.90"/>
<path d="M882.1 2371.7L882.1 2382.8" stroke-width="1.90"/>
<path d="M720.3 1840.9L896.9 1840.9" stroke-width="1.70"/>
<rect x="823.4" y="1833.7" width="20.2" height="14.5" rx="1.3" fill="#231f20" stroke="none"/>
<path d="M885.40 1833.80L897.21 1840.90L885.40 1848.00" stroke-width="3.80" stroke-linecap="round" stroke-linejoin="miter" stroke-miterlimit="10"/>
<path d="M600.0 1890.2L731.8 1887.4" stroke-width="1.70"/>
<rect x="656.2" y="1880.5" width="20.2" height="14.5" rx="1.3" fill="#231f20" stroke="none"/>
<path d="M572.6 1940.3L726.1 1938.2" stroke-width="1.70"/>
<rect x="638.5" y="1930.2" width="20.2" height="14.5" rx="1.3" fill="#231f20" stroke="none"/>
<path d="M548.1 1964.8L747.7 1962.7" stroke-width="1.70"/>
<rect x="638.5" y="1955.8" width="20.2" height="14.5" rx="1.3" fill="#231f20" stroke="none"/>
<path d="M744.4 2012.7L877.0 2010.2" stroke-width="1.70"/>
<rect x="801.0" y="2005.5" width="20.2" height="14.5" rx="1.3" fill="#231f20" stroke="none"/>
<path d="M632.0 2059.6L802.5 2059.6" stroke-width="1.70"/>
<rect x="708.8" y="2053.1" width="20.2" height="14.5" rx="1.3" fill="#231f20" stroke="none"/>
<path d="M588.1 2086.2L835.6 2084.4" stroke-width="1.70"/>
<rect x="698.7" y="2076.2" width="20.2" height="14.5" rx="1.3" fill="#231f20" stroke="none"/>
<path d="M662.3 2134.7L794.5 2132.9" stroke-width="1.70"/>
<rect x="718.9" y="2125.2" width="20.2" height="14.5" rx="1.3" fill="#231f20" stroke="none"/>
<path d="M569.0 2158.5L758.5 2156.3" stroke-width="1.70"/>
<rect x="654.4" y="2149.2" width="20.2" height="14.5" rx="1.3" fill="#231f20" stroke="none"/>
<path d="M633.1 2207.1L780.5 2204.9" stroke-width="1.70"/>
<rect x="694.4" y="2199.2" width="20.2" height="14.5" rx="1.3" fill="#231f20" stroke="none"/>
<path d="M506.5 2256.5L725.7 2256.5" stroke-width="1.70"/>
<rect x="578.4" y="2249.1" width="20.2" height="14.5" rx="1.3" fill="#231f20" stroke="none"/>
<path d="M518.00 2249.40L506.19 2256.50L518.00 2263.60" stroke-width="3.80" stroke-linecap="round" stroke-linejoin="miter" stroke-miterlimit="10"/>
<path d="M612.2 2304.0L747.7 2304.0" stroke-width="1.70"/>
<rect x="670.6" y="2296.8" width="20.2" height="14.5" rx="1.3" fill="#231f20" stroke="none"/>
<path d="M605.0 2328.5L850.0 2328.5" stroke-width="1.70"/>
<rect x="722.1" y="2321.9" width="20.2" height="14.5" rx="1.3" fill="#231f20" stroke="none"/>
<path d="M562.9 2354.4L896.9 2354.4" stroke-width="1.70"/>
<rect x="780.5" y="2346.3" width="20.2" height="14.5" rx="1.3" fill="#231f20" stroke="none"/>
<path d="M885.40 2347.30L897.21 2354.40L885.40 2361.50" stroke-width="3.80" stroke-linecap="round" stroke-linejoin="miter" stroke-miterlimit="10"/>
<path d="M541.8 2449.2L647.9 2449.2" stroke-width="1.90"/>
<path d="M555.30 2442.10L543.49 2449.20L555.30 2456.30" stroke-width="3.80" stroke-linecap="round" stroke-linejoin="miter" stroke-miterlimit="10"/>
<path d="M744.4 2449.2L851.3 2449.2" stroke-width="1.90"/>
<path d="M837.80 2442.10L849.61 2449.20L837.80 2456.30" stroke-width="3.80" stroke-linecap="round" stroke-linejoin="miter" stroke-miterlimit="10"/>
</svg>
</body></html>
